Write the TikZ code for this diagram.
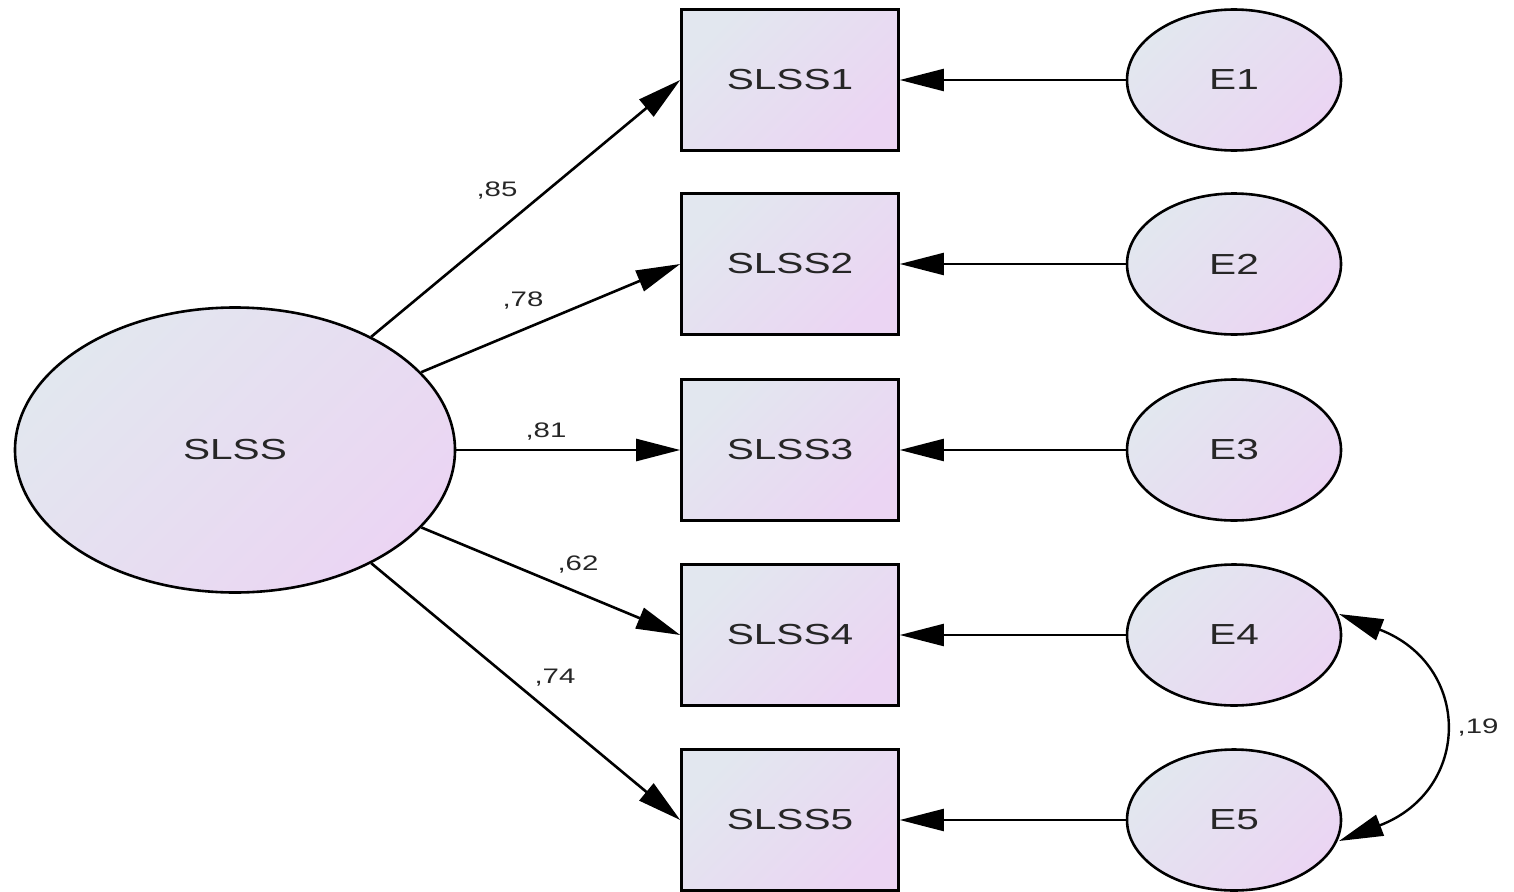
\documentclass[tikz,border=0pt]{standalone}
\usepackage{fontspec}
\setmainfont{Liberation Sans}
\usetikzlibrary{shapes.geometric,arrows.meta}
\definecolor{cA}{HTML}{E2E7EF}
\definecolor{cB}{HTML}{EBD5F3}
\newcommand{\wide}[1]{\scalebox{1.4}[1]{#1}}
\begin{document}
\begin{tikzpicture}[x=1pt,y=-1pt,
  grad/.style={draw=black,line width=2.6pt,top color=cA,bottom color=cB,shading angle=45},
  latent/.style={grad,ellipse,inner sep=0pt,font=\fontsize{29}{31}\selectfont,text=black!85},
  obs/.style={grad,rectangle,inner sep=0pt,minimum width=217pt,minimum height=141pt,font=\fontsize{29}{31}\selectfont,text=black!85},
  err/.style={latent,minimum width=214pt,minimum height=141pt},
  path/.style={line width=2.6pt,-{Triangle[length=44pt,width=22pt]}},
  epath/.style={line width=2.2pt,-{Triangle[length=44pt,width=22pt]}},
  coef/.style={font=\fontsize{21}{23}\selectfont,inner sep=0pt,text=black!85}]
\useasboundingbox[fill=white] (0,0) rectangle (1514,891);
\node[latent,minimum width=440pt,minimum height=285pt] (slss) at (235,450) {\wide{SLSS}};
\foreach \i/\y in {1/80,2/264,3/450,4/635,5/820}{
  \node[obs] (b\i) at (790,\y) {\wide{SLSS\i}};
  \node[err] (e\i) at (1234,\y) {\wide{E\i}};
  \draw[epath] (e\i) -- (b\i);
}
\draw[path] (slss) -- (b1.west);
\draw[path] (slss) -- (b2.west);
\draw[path] (slss) -- (b3.west);
\draw[path] (slss) -- (b4.west);
\draw[path] (slss) -- (b5.west);
\node[coef] (l1) at (497,191) {\wide{,85}};
\node[coef] (l2) at (523,301) {\wide{,78}};
\node[coef] (l3) at (546,432) {\wide{,81}};
\node[coef] (l4) at (578,565) {\wide{,62}};
\node[coef] (l5) at (555,678) {\wide{,74}};
\coordinate (c4) at (1339,614);
\coordinate (c5) at (1339,841);
\draw[line width=2.4pt,{Triangle[length=44pt,width=22pt]}-{Triangle[length=44pt,width=22pt]}] (c4) .. controls (1472,665) and (1472,790) .. (c5);
\node[coef] (l6) at (1478,728) {\wide{,19}};
\end{tikzpicture}
\end{document}
